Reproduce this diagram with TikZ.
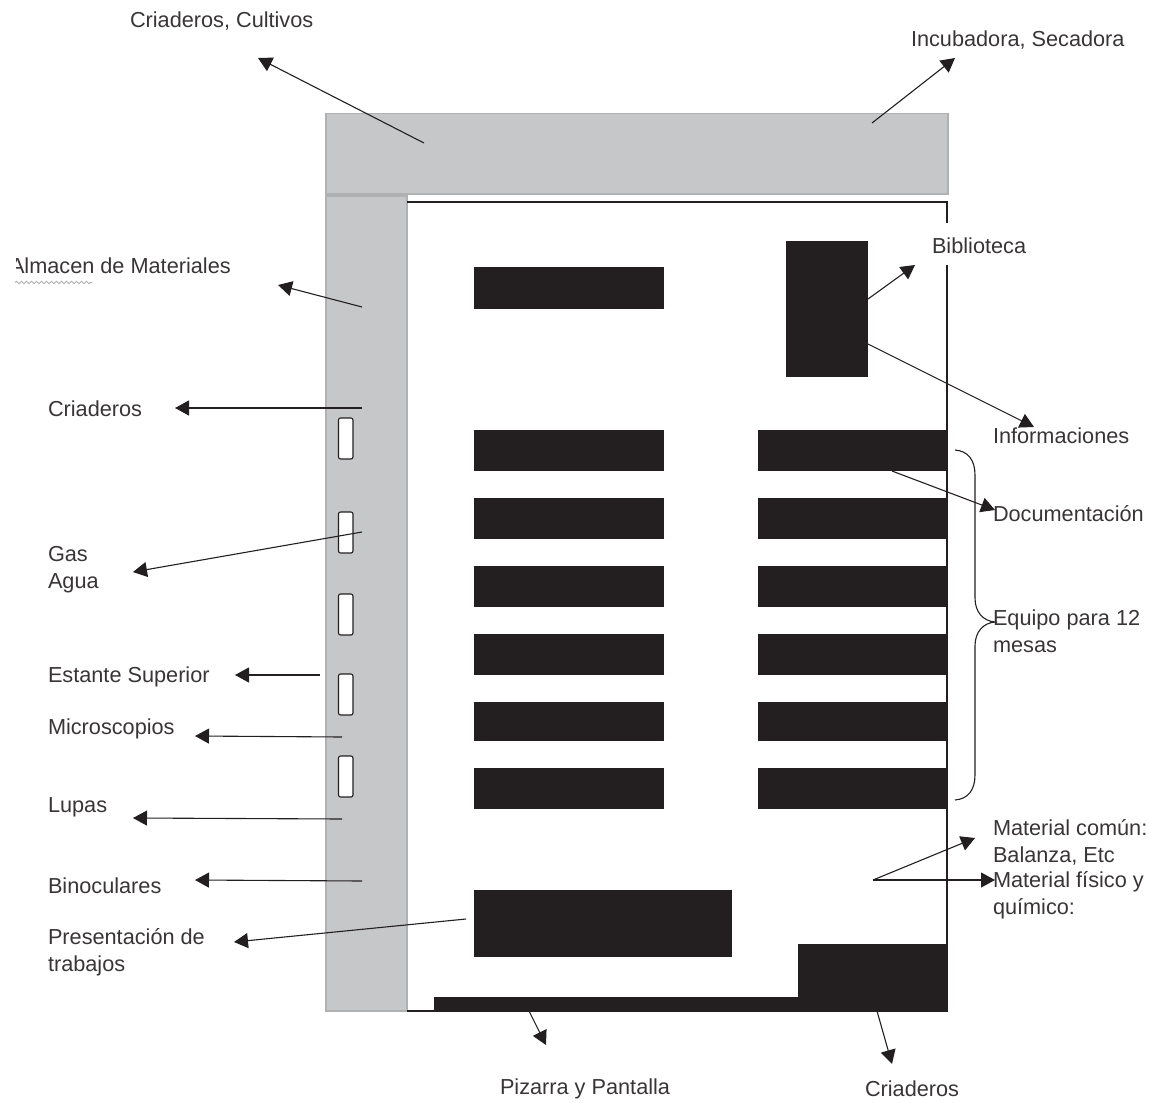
\documentclass[tikz,border=0pt]{standalone}
\usepackage{fontspec}
\setmainfont{Liberation Sans}
\usetikzlibrary{arrows.meta,decorations.pathmorphing}
\definecolor{ink}{HTML}{231F20}
\definecolor{bench}{HTML}{C6C7C9}
\definecolor{benchedge}{HTML}{B0B1B3}
\tikzset{
  lbl/.style={anchor=west,inner sep=0pt,outer sep=0pt,align=left,text=ink!90,font=\fontsize{21.7}{27}\selectfont},
  zone/.style={fill=bench,draw=benchedge,line width=1.2pt},
  slot/.style={fill=white,draw=ink,line width=1.1pt,rounded corners=2pt},
  arr/.style={draw=ink,line width=1.1pt,-{Triangle[length=14pt,width=15pt]}},
  room/.style={draw=ink,line width=1.3pt}
}
\begin{document}
\begin{tikzpicture}[x=1pt,y=-1pt]
\useasboundingbox (0,0) rectangle (1149,1103);
% zones
\path[zone] (326,113.5) rectangle (948,194);
\path[zone] (326,196) rectangle (407,1011);
\draw[room] (407,202) -- (947,202) -- (947,1011) -- (407,1011);
% slots
\foreach \n/\t in {a/418,b/512,c/594,d/674,e/756}
  \path[slot] (338.5,\t) rectangle (353,\t+41);
% benches
\foreach \t/\b in {267/309,430/471,498/539,566/607,634/675,702/741,768/809}
  \fill[ink] (474,\t) rectangle (664,\b);
\foreach \t/\b in {430/471,498/539,566/607,634/675,702/741,768/809}
  \fill[ink] (758,\t) rectangle (947,\b);
\fill[ink] (786,241) rectangle (868,377);
\fill[ink] (474,890) rectangle (732,957);
\fill[ink] (434,997) -- (798,997) -- (798,944) -- (947.6,944) -- (947.6,1011.6) -- (434,1011.6) -- cycle;
% labels
\node[lbl] (cc) at (130,21) {Criaderos, Cultivos};
\node[lbl] (is) at (911,40) {Incubadora, Secadora};
\fill[white] (925,223) rectangle (1030,265);
\node[lbl] (bi) at (932,246) {Biblioteca};
\node[lbl] (al) at (10,266) {Almacen de Materiales};
\fill[white] (8,250) rectangle (15.5,284);
\draw[benchedge,line width=0.9pt,decorate,decoration={snake,amplitude=1.2pt,segment length=5pt}] (15,282.5) -- (92,282.5);
\node[lbl] (cr) at (48,409) {Criaderos};
\node[lbl] (in) at (993,436) {Informaciones};
\node[lbl] (do) at (993,514) {Documentación};
\node[lbl] (ga) at (48,570) {Gas\\Agua};
\node[lbl] (eq) at (993,631.5) {Equipo para 12\\mesas};
\node[lbl] (es) at (48,677) {Estante Superior};
\node[lbl] (mi) at (48,729) {Microscopios};
\node[lbl] (lu) at (48,807) {Lupas};
\node[lbl] (mc) at (993,842.5) {Material común:\\Balanza, Etc};
\node[lbl] (mf) at (993,895) {Material físico y\\químico:};
\node[lbl] (bn) at (48,886) {Binoculares};
\node[lbl] (pr) at (48,952.5) {Presentación de\\trabajos};
\node[lbl] (pi) at (500,1089) {Pizarra y Pantalla};
\node[lbl] (cb) at (865,1089) {Criaderos};
% arrow ends
\coordinate (s1) at (424,143); \coordinate (e1) at (258,58);
\coordinate (s2) at (872,123); \coordinate (e2) at (955,58);
\coordinate (s3) at (362,307); \coordinate (e3) at (278,285);
\coordinate (s4) at (362,408); \coordinate (e4) at (175,408);
\coordinate (s5) at (362,532); \coordinate (e5) at (133,572);
\coordinate (s6) at (320,675); \coordinate (e6) at (235,675);
\coordinate (s7) at (342,737); \coordinate (e7) at (195,736);
\coordinate (s8) at (342,819); \coordinate (e8) at (133,818);
\coordinate (s9) at (362,881); \coordinate (e9) at (195,880);
\coordinate (s10) at (466,919); \coordinate (e10) at (234,942);
\coordinate (s11) at (868,299); \coordinate (e11) at (915,265);
\coordinate (s12) at (868,344); \coordinate (e12) at (1034,427);
\coordinate (s13) at (892,471); \coordinate (e13) at (995,510);
\coordinate (s14) at (873,880); \coordinate (e14) at (975,838);
\coordinate (e15) at (995,880);
\coordinate (s16) at (529,1011); \coordinate (e16) at (546,1045);
\coordinate (s17) at (877,1011); \coordinate (e17) at (892,1064);
\foreach \s/\e in {s1/e1,s2/e2,s3/e3,s4/e4,s5/e5,s6/e6,s7/e7,s8/e8,s9/e9,s10/e10,s11/e11,s12/e12,s13/e13,s14/e14,s14/e15,s16/e16,s17/e17}
  \draw[arr] (\s) -- (\e);
% brace
\draw[draw=ink,line width=1.1pt] (955,450) .. controls (968,451) and (975,460) .. (975,475)
  -- (975,598) .. controls (975,612) and (983,621) .. (995,622)
  .. controls (983,623) and (975,632) .. (975,646)
  -- (975,775) .. controls (975,790) and (968,799) .. (955,800);
\end{tikzpicture}
\end{document}
